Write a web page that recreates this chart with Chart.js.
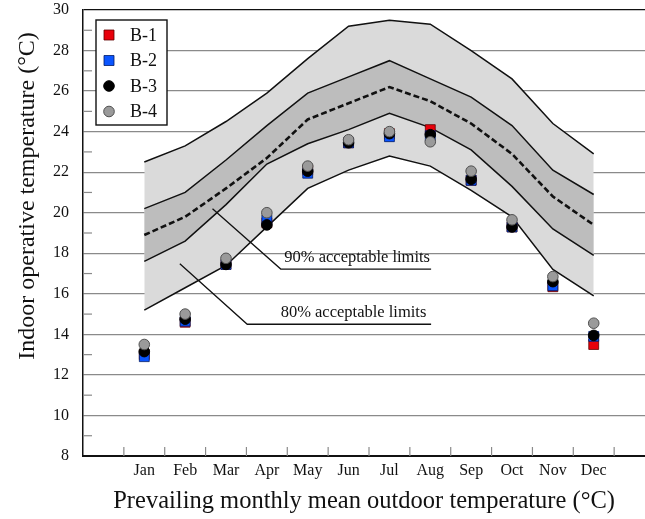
<!DOCTYPE html>
<html lang="en">
<head>
<meta charset="UTF-8">
<title>Indoor operative temperature</title>
<script src="https://cdn.jsdelivr.net/npm/chart.js"></script>
<style>
  html, body { margin: 0; padding: 0; background: #fff; overflow: hidden; }
  /* a little wider than the window: the plot frame runs off the right edge */
  #wrap { width: 653px; height: 519px; }
</style>
</head>
<body>
<div id="wrap"><canvas id="comfortChart"></canvas></div>
<script>
// months sit in the middle of each tick interval (Jan = 1.5 ... Dec = 12.5)
const months = ['Jan', 'Feb', 'Mar', 'Apr', 'May', 'Jun', 'Jul', 'Aug', 'Sep', 'Oct', 'Nov', 'Dec'];
const xTickMarks = [1, 2, 3, 4, 5, 6, 7, 8, 9, 10, 11, 12, 13];
const yMinorTicks = [9, 11, 13, 15, 17, 19, 21, 23, 25, 27, 29];

// acceptable limits
const upper80 = [22.5, 23.3, 24.5, 25.9, 27.6, 29.2, 29.5, 29.3, 28.0, 26.6, 24.4, 22.9];
const upper90 = [20.2, 21.0, 22.6, 24.3, 25.9, 26.7, 27.5, 26.6, 25.7, 24.3, 22.1, 20.9];
const neutral = [18.9, 19.8, 21.2, 22.7, 24.6, 25.4, 26.2, 25.5, 24.4, 22.9, 20.8, 19.4];
const lower90 = [17.6, 18.6, 20.4, 22.4, 23.4, 24.1, 24.9, 24.2, 23.1, 21.3, 19.2, 17.9];
const lower80 = [15.2, 16.3, 17.4, 19.3, 21.2, 22.1, 22.8, 22.3, 21.1, 19.8, 17.2, 15.9];

// measured buildings
const b1 = [13.0, 14.6, 17.45, 19.5, 22.1, 23.45, 23.9, 24.1, 21.6, 19.3, 16.35, 13.5];
const b2 = [12.9, 14.65, 17.45, 19.65, 21.95, 23.45, 23.75, 23.8, 21.6, 19.3, 16.4, 13.9];
const b3 = [13.15, 14.75, 17.45, 19.4, 22.05, 23.45, 23.9, 23.85, 21.65, 19.3, 16.6, 13.95];
const b4 = [13.5, 15.0, 17.75, 20.0, 22.3, 23.6, 24.0, 23.5, 22.05, 19.65, 16.85, 14.55];

// callouts, in axis units: leader start, elbow, end of underline, text centre
const notes = [
  { text: '90% acceptable limits', from: [3.17, 20.2], elbow: [4.84, 17.22], to: [8.52, 17.22], at: [6.71, 17.8] },
  { text: '80% acceptable limits', from: [2.37, 17.48], elbow: [4.02, 14.5], to: [8.52, 14.5], at: [6.62, 15.05] }
];

const serif = '"Liberation Serif", "Times New Roman", serif';

function toPoints(values) {
  return values.map((v, i) => ({ x: i + 1.5, y: v }));
}

function bandLine(label, values, fill, color, order) {
  return {
    label: label,
    data: toPoints(values),
    showLine: true,
    pointRadius: 0,
    borderColor: '#111',
    borderWidth: 1.5,
    backgroundColor: color,
    fill: fill,
    tension: 0,
    order: order
  };
}

const extras = {
  id: 'extras',
  afterDatasetsDraw(chart) {
    const { ctx, chartArea } = chart;
    const x = chart.scales.x, y = chart.scales.y;
    ctx.save();
    // inward tick marks
    ctx.strokeStyle = '#8a8a8a';
    ctx.lineWidth = 1.2;
    yMinorTicks.forEach(v => {
      const py = y.getPixelForValue(v);
      ctx.beginPath();
      ctx.moveTo(chartArea.left, py);
      ctx.lineTo(chartArea.left + 9, py);
      ctx.stroke();
    });
    xTickMarks.forEach(v => {
      const px = x.getPixelForValue(v);
      ctx.beginPath();
      ctx.moveTo(px, chartArea.bottom);
      ctx.lineTo(px, chartArea.bottom - 9);
      ctx.stroke();
    });

    // callouts
    ctx.strokeStyle = '#111';
    ctx.lineWidth = 1.3;
    ctx.fillStyle = '#111';
    ctx.font = '16.5px ' + serif;
    ctx.textAlign = 'center';
    ctx.textBaseline = 'middle';
    notes.forEach(n => {
      ctx.beginPath();
      ctx.moveTo(x.getPixelForValue(n.from[0]), y.getPixelForValue(n.from[1]));
      ctx.lineTo(x.getPixelForValue(n.elbow[0]), y.getPixelForValue(n.elbow[1]));
      ctx.lineTo(x.getPixelForValue(n.to[0]), y.getPixelForValue(n.to[1]));
      ctx.stroke();
      ctx.fillText(n.text, x.getPixelForValue(n.at[0]), y.getPixelForValue(n.at[1]));
    });
    ctx.restore();
  },
  afterDraw(chart) {
    const { ctx, chartArea } = chart;
    ctx.save();
    // legend box
    const bx = chartArea.left + 13, by = chartArea.top + 10;
    ctx.fillStyle = '#fff';
    ctx.fillRect(bx, by, 71, 105);
    ctx.strokeStyle = '#111';
    ctx.lineWidth = 1.4;
    ctx.strokeRect(bx, by, 71, 105);
    ctx.font = '18px ' + serif;
    ctx.textAlign = 'left';
    ctx.textBaseline = 'middle';
    [0, 1, 2, 3].forEach((idx, row) => {
      const ds = chart.data.datasets[idx];
      const cx = bx + 13, cy = by + 15 + row * 25.5;
      ctx.fillStyle = ds.backgroundColor;
      ctx.strokeStyle = ds.borderColor;
      ctx.lineWidth = ds.borderWidth;
      ctx.beginPath();
      if (ds.pointStyle === 'rect') {
        ctx.rect(cx - 5, cy - 5, 10, 10);
      } else {
        ctx.arc(cx, cy, 5.3, 0, Math.PI * 2);
      }
      ctx.fill();
      ctx.stroke();
      ctx.fillStyle = '#111';
      ctx.fillText(ds.label, bx + 34, cy + 1);
    });

    // y axis title
    ctx.translate(28, 196);
    ctx.rotate(-Math.PI / 2);
    ctx.font = '24px ' + serif;
    ctx.textAlign = 'center';
    ctx.fillText('Indoor operative temperature (\u00B0C)', 0, 0);
    ctx.restore();
  }
};

new Chart(document.getElementById('comfortChart'), {
  type: 'scatter',
  data: {
    datasets: [
      { label: 'B-1', data: toPoints(b1), pointStyle: 'rect', pointRadius: 7, backgroundColor: '#e8000b', borderColor: '#600000', borderWidth: 0.8, order: 4 },
      { label: 'B-2', data: toPoints(b2), pointStyle: 'rect', pointRadius: 7, backgroundColor: '#0a55ff', borderColor: '#001a66', borderWidth: 0.8, order: 3 },
      { label: 'B-3', data: toPoints(b3), pointStyle: 'circle', pointRadius: 5.3, backgroundColor: '#000', borderColor: '#000', borderWidth: 1, order: 2 },
      { label: 'B-4', data: toPoints(b4), pointStyle: 'circle', pointRadius: 5.3, backgroundColor: '#9a9a9a', borderColor: '#505050', borderWidth: 1, order: 1 },
      bandLine('80% upper', upper80, 5, '#dadada', 10),
      bandLine('80% lower', lower80, false, '#dadada', 9),
      bandLine('90% upper', upper90, 7, '#bdbdbd', 8),
      bandLine('90% lower', lower90, false, '#bdbdbd', 7),
      {
        label: 'neutral',
        data: toPoints(neutral),
        showLine: true,
        pointRadius: 0,
        borderColor: '#111',
        borderWidth: 2.6,
        borderDash: [6, 3],
        fill: false,
        tension: 0,
        order: 6
      }
    ]
  },
  options: {
    responsive: true,
    maintainAspectRatio: false,
    animation: false,
    layout: { padding: { top: 10, right: 0, left: 0, bottom: 0 } },
    plugins: {
      legend: { display: false },
      tooltip: { enabled: false }
    },
    scales: {
      x: {
        type: 'linear',
        min: 0,
        max: 13.76,
        afterBuildTicks: scale => { scale.ticks = months.map((m, i) => ({ value: i + 1.5 })); },
        afterFit: scale => { scale.height = 63; },
        grid: { display: false, drawTicks: false },
        border: { display: true, color: '#111', width: 2 },
        ticks: {
          autoSkip: false,
          maxRotation: 0,
          padding: 5,
          color: '#111',
          font: { family: serif, size: 16 },
          callback: (value, index) => months[index]
        },
        title: {
          display: true,
          text: 'Prevailing monthly mean outdoor temperature (\u00B0C)',
          color: '#111',
          font: { family: serif, size: 24.5 },
          padding: { top: 0, bottom: 3 }
        }
      },
      y: {
        min: 8,
        max: 30,
        afterFit: scale => { scale.width = 83; },
        grid: {
          drawTicks: true,
          tickLength: 14,
          tickColor: 'rgba(0,0,0,0)',
          lineWidth: 1.2,
          color: c => (c.tick && c.tick.value === 30 ? '#111' : '#8a8a8a')
        },
        border: { display: true, color: '#111', width: 1.5 },
        ticks: {
          stepSize: 2,
          padding: 0,
          color: '#111',
          font: { family: serif, size: 16 }
        }
      }
    }
  },
  plugins: [extras]
});
</script>
</body>
</html>
